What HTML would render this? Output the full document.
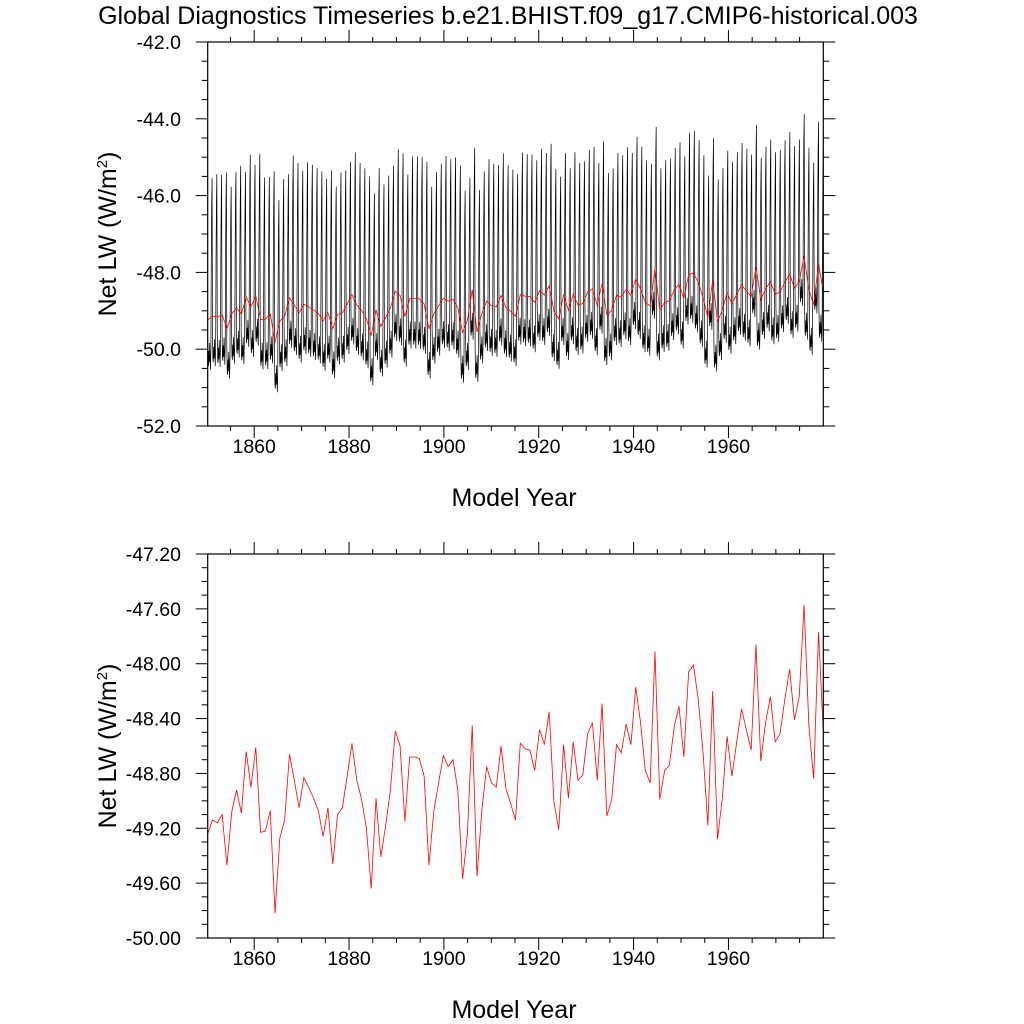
<!DOCTYPE html>
<html><head><meta charset="utf-8">
<style>
html,body{margin:0;padding:0;background:#fff;}
svg{display:block;font-family:"Liberation Sans",Arial,sans-serif;}
</style></head>
<body>
<svg id="chart" width="1024" height="1024" viewBox="0 0 1024 1024">
<text x="508" y="24" text-anchor="middle" font-size="25">Global Diagnostics Timeseries b.e21.BHIST.f09_g17.CMIP6-historical.003</text>
<g id="top"></g>
<g id="bottom"></g>
</svg>
<script>
// Annual mean Net LW (W/m2), 1850 onward
const annualValues = [-49.24,-49.14,-49.16,-49.10,-49.47,-49.08,-48.92,-49.09,-48.64,-48.90,
-48.61,-49.23,-49.22,-49.07,-49.82,-49.27,-49.14,-48.66,-48.85,-49.05,
-48.83,-48.90,-48.98,-49.07,-49.26,-49.05,-49.46,-49.10,-49.05,-48.82,
-48.58,-48.85,-48.99,-49.20,-49.64,-48.98,-49.41,-49.18,-48.92,-48.49,
-48.60,-49.15,-48.68,-48.68,-48.69,-48.82,-49.47,-49.08,-48.87,-48.67,
-48.75,-48.70,-48.92,-49.57,-49.24,-48.45,-49.55,-49.07,-48.75,-48.87,
-48.90,-48.60,-48.91,-49.02,-49.14,-48.58,-48.62,-48.63,-48.78,-48.48,
-48.59,-48.35,-49.01,-49.21,-48.59,-48.98,-48.57,-48.85,-48.81,-48.51,
-48.43,-48.85,-48.29,-49.11,-48.99,-48.59,-48.65,-48.44,-48.59,-48.17,
-48.43,-48.78,-48.87,-47.91,-48.99,-48.78,-48.74,-48.46,-48.31,-48.68,
-48.06,-48.01,-48.26,-48.65,-49.18,-48.20,-49.28,-48.98,-48.53,-48.82,
-48.57,-48.33,-48.48,-48.63,-47.86,-48.71,-48.43,-48.24,-48.57,-48.51,
-48.26,-48.04,-48.41,-48.24,-47.57,-48.45,-48.84,-47.77,-48.50];
// Mean seasonal-cycle anomaly by calendar month (W/m2)
const seasonalAnomaly = [-0.4,-1.1,-1.2,-0.8,-1.1,-0.6,-1.0,-1.3,-0.8,1.6,3.0,3.7];
const xTickLabels = ["1860","1880","1900","1920","1940","1960"];
const topYTickLabels = ["-52.0","-50.0","-48.0","-46.0","-44.0","-42.0"];
const bottomYTickLabels = ["-50.00","-49.60","-49.20","-48.80","-48.40","-48.00","-47.60","-47.20"];

const NS="http://www.w3.org/2000/svg";
const L=207.7,R=823.3;
const XMIN=1850.2,XMAX=1980.0;
function xScale(v){return L+(v-XMIN)/(XMAX-XMIN)*(R-L);}
function mk(tag,attrs,parent){const e=document.createElementNS(NS,tag);for(const k in attrs)e.setAttribute(k,attrs[k]);parent.appendChild(e);return e;}

function panel(g,top,bot,ymin,ymax,yMajorStep,yMinorStep,yLabels,drawMonthly){
  const yScale=v=>bot-(v-ymin)/(ymax-ymin)*(bot-top);
  const n=annualValues.length;
  const step=(XMAX-XMIN)/(n-1);
  if(drawMonthly){
    const m=seasonalAnomaly.length;
    const total=n*m;
    const mstep=(XMAX-XMIN)/(total-1);
    let d="";
    for(let i=0;i<total;i++){
      const y=Math.floor(i/m), mo=i%m;
      const v=annualValues[y]+seasonalAnomaly[mo];
      d+=(i?"L":"M")+xScale(XMIN+i*mstep).toFixed(2)+","+yScale(v).toFixed(2);
    }
    const p=mk("path",{d:d,fill:"none",stroke:"#000","stroke-width":"0.7"},g);
    
    
  }
  let d2="";
  for(let i=0;i<n;i++){
    d2+=(i?"L":"M")+xScale(XMIN+i*step).toFixed(2)+","+yScale(annualValues[i]).toFixed(2);
  }
  const p2=mk("path",{d:d2,fill:"none",stroke:"#ff0000","stroke-width":"0.8"},g);
  
  
  const fr=mk("rect",{x:L,y:top,width:R-L,height:bot-top,fill:"none",stroke:"#000","stroke-width":"1.2"},g);
  
  
  for(let yr=1855;yr<=1975;yr+=5){
    const x=xScale(yr);const major=(yr%20===0);const len=major?12:5;
    mk("line",{x1:x,x2:x,y1:bot,y2:bot+len,stroke:"#000","stroke-width":"1"},g);
    mk("line",{x1:x,x2:x,y1:top,y2:top-len,stroke:"#000","stroke-width":"1"},g);
  }
  xTickLabels.forEach(s=>{
    const t=mk("text",{x:xScale(+s),y:bot+27,"text-anchor":"middle","font-size":"19.5"},g);
    t.textContent=s;
    
    
  });
  const nMinor=Math.round((ymax-ymin)/yMinorStep);
  const ratio=Math.round(yMajorStep/yMinorStep);
  for(let k=0;k<=nMinor;k++){
    const y=yScale(ymin+k*yMinorStep);const major=(k%ratio===0);const len=major?12:6;
    mk("line",{x1:L,x2:L-len,y1:y,y2:y,stroke:"#000","stroke-width":"1"},g);
    mk("line",{x1:R,x2:R+len,y1:y,y2:y,stroke:"#000","stroke-width":"1"},g);
  }
  yLabels.forEach(s=>{
    const t=mk("text",{x:181,y:yScale(+s)+7,"text-anchor":"end","font-size":"19.5"},g);
    t.textContent=s;
    
    
  });
  const xt=mk("text",{x:514,y:bot+80,"text-anchor":"middle","font-size":"25"},g);
  xt.textContent="Model Year";
  
  
  const cy=(top+bot)/2;
  const yt=mk("text",{x:116,y:cy,"text-anchor":"middle","font-size":"25",transform:"rotate(-90 116 "+cy+")"},g);
  yt.innerHTML='Net LW (W/m<tspan dy="-9" font-size="15">2</tspan><tspan dy="9">)</tspan>';
  
  
}
panel(document.getElementById("top"),42,426,-52,-42,2,0.5,topYTickLabels,true);
panel(document.getElementById("bottom"),554,938,-50,-47.2,0.4,0.1,bottomYTickLabels,false);
</script>
</body></html>
